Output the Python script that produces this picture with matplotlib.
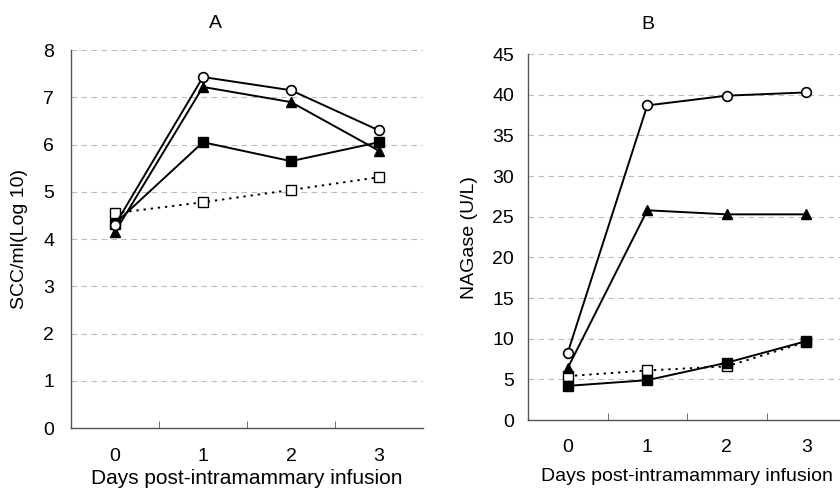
import matplotlib.pyplot as plt

plt.rcParams['font.family'] = ['Liberation Sans', 'DejaVu Sans']

days = [0, 1, 2, 3]
day_labels = ['0', '1', '2', '3']

# Panel A: SCC/ml (log10)
scc_circle = [4.30, 7.43, 7.15, 6.30]
scc_triangle = [4.15, 7.22, 6.90, 5.87]
scc_fsquare = [4.33, 6.05, 5.65, 6.05]
scc_osquare = [4.55, 4.78, 5.04, 5.31]

# Panel B: NAGase (U/L)
nag_circle = [8.3, 38.7, 39.9, 40.3]
nag_triangle = [6.4, 25.8, 25.3, 25.3]
nag_fsquare = [4.2, 4.9, 7.05, 9.7]
nag_osquare = [5.4, 6.1, 6.6, 9.6]

fig = plt.figure(figsize=(8.4, 4.91), dpi=100)
axA = fig.add_axes([0.0845, 0.128, 0.419, 0.77])
axB = fig.add_axes([0.6286, 0.1446, 0.3786, 0.745])


def style(ax, ymax, ystep, ypad, xlabelpad, xlsize):
    ax.set_xlim(-0.5, 3.5)
    ax.set_ylim(0, ymax)
    ax.set_yticks(range(0, ymax + 1, ystep))
    ax.set_xticks(days)
    ax.set_xticklabels(day_labels)
    ax.set_xticks([0.5, 1.5, 2.5], minor=True)
    ax.tick_params(axis='x', which='major', length=0, pad=14, labelsize=14)
    ax.tick_params(axis='x', which='minor', direction='in', length=5, color='#555555')
    ax.tick_params(axis='y', length=0, pad=ypad, labelsize=14)
    for s in ['top', 'right']:
        ax.spines[s].set_visible(False)
    for s in ['left', 'bottom']:
        ax.spines[s].set_color('#555555')
        ax.spines[s].set_linewidth(1.0)
    ax.grid(axis='y', linestyle=(0, (5, 4)), color='#bbbbbb', linewidth=0.8)
    ax.set_axisbelow(True)
    ax.set_xlabel('Days post-intramammary infusion', fontsize=xlsize, labelpad=xlabelpad)


def draw(ax, c, t, fs, os_):
    kw = dict(color='black', linewidth=1.4, markersize=7, clip_on=False)
    ax.plot(days, os_, linestyle=(0, (1.2, 2.5)), marker='s', markerfacecolor='white',
            markeredgewidth=1.0, **kw)
    ax.plot(days, fs, linestyle='-', marker='s', markerfacecolor='black', **kw)
    ax.plot(days, t, linestyle='-', marker='^', markerfacecolor='black', **kw)
    ax.plot(days, c, linestyle='-', marker='o', markerfacecolor='white',
            markeredgewidth=1.2, **kw)


draw(axA, scc_circle, scc_triangle, scc_fsquare, scc_osquare)
style(axA, 8, 1, 12, 3, 15)
axA.set_ylabel('SCC/ml(Log 10)', fontsize=14, labelpad=11)
axA.set_title('A', fontsize=14, x=0.41, pad=16)

draw(axB, nag_circle, nag_triangle, nag_fsquare, nag_osquare)
style(axB, 45, 5, 10, 8, 14)
axB.set_ylabel('NAGase (U/L)', fontsize=14, labelpad=10)
axB.set_title('B', fontsize=14, x=0.377, pad=18)

fig.savefig('out.png', dpi=100)
